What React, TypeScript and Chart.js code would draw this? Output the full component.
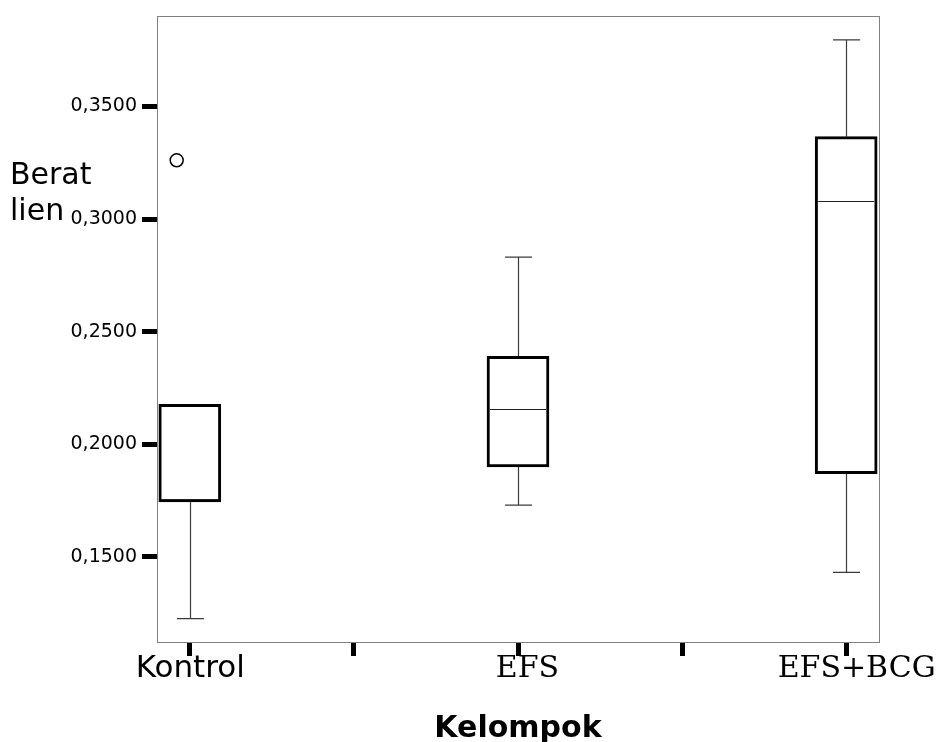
import React, { useEffect, useRef } from 'react';
import { Chart, registerables } from 'chart.js';

Chart.register(...registerables);

// ---- data ----
const groups = ['Kontrol', 'EFS', 'EFS+BCG'];
const groupPos = [1, 2, 3];
const q1 = [0.1744, 0.1899, 0.1869];
const median = [0.1759, 0.2155, 0.308];
const q3 = [0.2177, 0.239, 0.3366];
const whiskerLow = [0.1226, 0.173, 0.1431];
const whiskerHigh = [0.2177, 0.2831, 0.3796];
const outlierGroup = [0];
const outlierValue = [0.3261];
const yTickValues = [0.15, 0.2, 0.25, 0.3, 0.35];
const xTickValues = [1, 1.5, 2, 2.5, 3];
const xTickLabels = ['Kontrol', '', 'EFS', '', 'EFS+BCG'];
const yTitleLines = ['Berat', 'lien'];
const xTitle = 'Kelompok';

// ---- style ----
const Y_MIN = 0.1122;
const Y_MAX = 0.39;
const X_MIN = 0.9;
const X_MAX = 3.1;
const OUTLIER_SHIFT = -0.04;
const CAP_HALF = 13.5;
const SANS = '"DejaVu Sans", sans-serif';
const SERIF = '"DejaVu Serif", serif';
const xLabelFont = ['31px ' + SANS, '', '30px ' + SERIF, '', '30px ' + SERIF];
const xLabelShift = [0.5, 0, 9.5, 0, 10.5];

const fmt = (v: number) => v.toFixed(4).replace('.', ',');

const boxPlugin = {
  id: 'boxExtras',
  beforeDatasetsDraw(chart: any) {
    const { ctx, scales } = chart;
    const x = scales.x;
    const y = scales.y;
    ctx.save();
    ctx.strokeStyle = '#3a3a3a';
    ctx.lineWidth = 1.2;
    groupPos.forEach((g, i) => {
      const px = Math.round(x.getPixelForValue(g)) + 0.5;
      const yl = y.getPixelForValue(whiskerLow[i]);
      const yh = y.getPixelForValue(whiskerHigh[i]);
      const y1 = y.getPixelForValue(q1[i]);
      const y3 = y.getPixelForValue(q3[i]);
      ctx.beginPath();
      if (whiskerLow[i] < q1[i]) {
        ctx.moveTo(px, y1);
        ctx.lineTo(px, yl);
        ctx.moveTo(px - CAP_HALF, yl);
        ctx.lineTo(px + CAP_HALF, yl);
      }
      if (whiskerHigh[i] > q3[i]) {
        ctx.moveTo(px, y3);
        ctx.lineTo(px, yh);
        ctx.moveTo(px - CAP_HALF, yh);
        ctx.lineTo(px + CAP_HALF, yh);
      }
      ctx.stroke();
    });
    ctx.restore();
  },
  afterDatasetsDraw(chart: any) {
    const { ctx, scales, chartArea: a } = chart;
    const x = scales.x;
    const y = scales.y;
    ctx.save();
    // medians
    ctx.strokeStyle = '#222';
    ctx.lineWidth = 1;
    groupPos.forEach((g, i) => {
      const px = x.getPixelForValue(g);
      const py = Math.round(y.getPixelForValue(median[i])) + 0.5;
      ctx.beginPath();
      ctx.moveTo(px - 28, py);
      ctx.lineTo(px + 28, py);
      ctx.stroke();
    });
    // frame
    ctx.strokeStyle = '#808080';
    ctx.lineWidth = 1;
    ctx.strokeRect(Math.round(a.left) + 0.5, Math.round(a.top) + 0.5, Math.round(a.right - a.left), Math.round(a.bottom - a.top));
    ctx.restore();
  },
  afterDraw(chart: any) {
    const { ctx, scales, chartArea: a } = chart;
    const x = scales.x;
    ctx.save();
    ctx.fillStyle = '#000';
    ctx.textBaseline = 'alphabetic';
    // x tick labels
    ctx.textAlign = 'center';
    xTickValues.forEach((v, i) => {
      if (!xTickLabels[i]) return;
      ctx.font = xLabelFont[i];
      ctx.fillText(xTickLabels[i], x.getPixelForValue(v) + xLabelShift[i], 676.5);
    });
    // x title
    ctx.font = 'bold 30px ' + SANS;
    ctx.fillText(xTitle, (a.left + a.right) / 2, 737);
    // y title
    ctx.textAlign = 'left';
    ctx.font = '30px ' + SANS;
    yTitleLines.forEach((t, i) => ctx.fillText(t, 10, 184 + i * 36));
    ctx.restore();
  },
};

export default function App() {
  const ref = useRef<HTMLCanvasElement | null>(null);
  useEffect(() => {
    if (!ref.current) return;
    const chart = new Chart(ref.current, {
      type: 'bar',
      data: {
        datasets: [
          {
            type: 'bar',
            label: 'box',
            data: groupPos.map((g, i) => ({ x: g, y: [q1[i], q3[i]] })) as any,
            backgroundColor: '#ffffff',
            borderColor: '#000000',
            borderWidth: 3,
            borderSkipped: false,
            barThickness: 62,
            grouped: false,
          } as any,
          {
            type: 'scatter',
            label: 'outlier',
            data: outlierGroup.map((g, i) => ({ x: groupPos[g] + OUTLIER_SHIFT, y: outlierValue[i] })),
            pointStyle: 'circle',
            pointRadius: 6.5,
            pointBorderWidth: 1.5,
            borderColor: '#000000',
            backgroundColor: 'rgba(0,0,0,0)',
          } as any,
        ],
      },
      options: {
        responsive: false,
        animation: false,
        layout: { padding: { top: 13, right: 59, left: 0, bottom: 0 } },
        plugins: { legend: { display: false }, tooltip: { enabled: false } },
        scales: {
          x: {
            type: 'linear',
            min: X_MIN,
            max: X_MAX,
            offset: false,
            afterBuildTicks: (s: any) => {
              s.ticks = xTickValues.map((v) => ({ value: v }));
            },
            afterFit: (s: any) => {
              s.height = 100;
            },
            grid: { offset: false, drawOnChartArea: false, drawTicks: true, tickLength: 14, tickWidth: 5, tickColor: '#000' },
            border: { display: false },
            ticks: { display: false },
          },
          y: {
            type: 'linear',
            min: Y_MIN,
            max: Y_MAX,
            afterBuildTicks: (s: any) => {
              s.ticks = yTickValues.map((v) => ({ value: v }));
            },
            afterFit: (s: any) => {
              s.width = 157;
            },
            grid: { drawOnChartArea: false, drawTicks: true, tickLength: 15, tickWidth: 5, tickColor: '#000' },
            border: { display: false },
            ticks: {
              padding: 5,
              color: '#000',
              font: { family: 'DejaVu Sans', size: 19 },
              callback: (v: any) => fmt(Number(v)),
            },
          },
        },
      } as any,
      plugins: [boxPlugin],
    });
    return () => chart.destroy();
  }, []);
  return (
    <div style={{ position: 'absolute', left: 0, top: 0, width: 938, height: 742, background: '#fff' }}>
      <canvas ref={ref} width={938} height={742} style={{ display: 'block' }} />
    </div>
  );
}
